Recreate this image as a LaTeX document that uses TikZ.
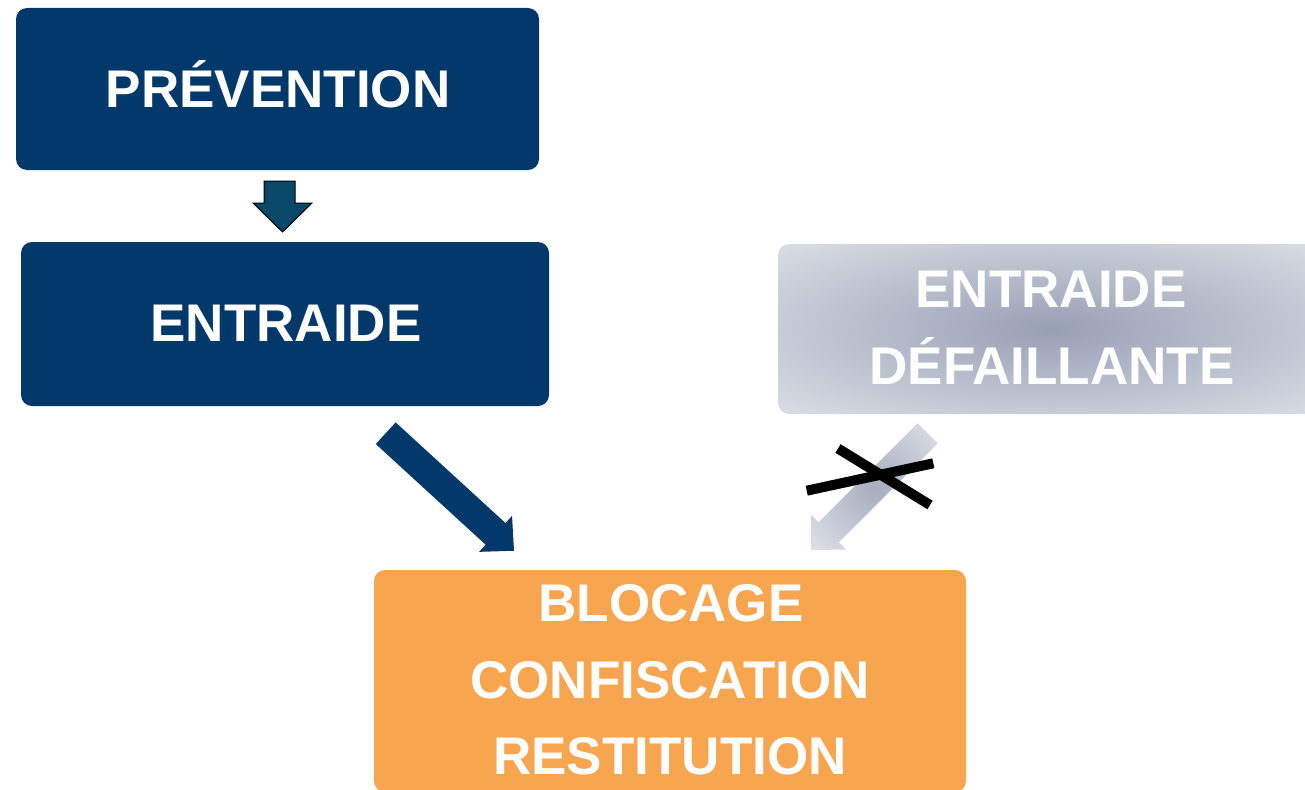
\documentclass[tikz,border=0pt]{standalone}
\usepackage{fontspec}
\setmainfont{Liberation Sans}
\definecolor{navy}{RGB}{3,56,107}
\definecolor{orng}{RGB}{248,165,80}
\definecolor{tealarrow}{RGB}{9,72,104}
\definecolor{gin}{RGB}{152,160,181}
\definecolor{gmid}{RGB}{190,195,208}
\definecolor{gout}{RGB}{226,229,235}
\definecolor{ain}{RGB}{165,173,190}
\definecolor{aout}{RGB}{228,231,236}
\pgfdeclareradialshading{grayglow}{\pgfpoint{0bp}{0bp}}{color(0bp)=(gin); color(20bp)=(gmid); color(40bp)=(gout); color(100bp)=(gout)}
\pgfdeclareradialshading{arrowglow}{\pgfpoint{0bp}{0bp}}{color(0bp)=(ain); color(40bp)=(aout); color(100bp)=(aout)}
\tikzset{
  box/.style={rectangle, rounded corners=11pt, inner sep=0pt, outer sep=0pt},
  lbl/.style={text=white, font=\fontsize{53}{60}\selectfont\bfseries, anchor=base, inner sep=0pt},
  crossbar/.style={line width=10pt, black},
}
\begin{document}
\begin{tikzpicture}[x=1pt,y=1pt]
\useasboundingbox (0,0) rectangle (1305,-789);
\clip (0,0) rectangle (1305,-789);
% boxes
\node[box, fill=navy, minimum width=523pt, minimum height=162pt] (prev) at (277.5,-89) {};
\node[box, fill=navy, minimum width=528pt, minimum height=164pt] (entr) at (285,-324) {};
\node[box, shading=grayglow, minimum width=547pt, minimum height=170pt] (fail) at (1051.5,-329) {};
\node[box, fill=orng, minimum width=592pt, minimum height=222pt] (bloc) at (670,-681) {};
% labels
\node[lbl] (prevt) at (278,-107) {PRÉVENTION};
\node[lbl] (entrt) at (286,-341) {ENTRAIDE};
\node[lbl] (fail1) at (1051,-307) {ENTRAIDE};
\node[lbl] (fail2) at (1052,-384) {DÉFAILLANTE};
\node[lbl] (bloc1) at (671,-621) {BLOCAGE};
\node[lbl] (bloc2) at (670,-698) {CONFISCATION};
\node[lbl] (bloc3) at (670,-774) {RESTITUTION};
% small arrow prevention -> entraide
\draw[fill=tealarrow, draw=black, line width=1pt, line join=miter]
  (264,-181) -- (295,-181) -- (295,-203) -- (312,-203) -- (282.5,-232)
  -- (253,-203) -- (264,-203) -- cycle;
% dark arrow entraide -> blocage
\begin{scope}[shift={(385.7,-433.2)}, rotate=-42.5]
  \fill[navy] (0,14.7) -- (149,14.7) -- (149,24.4) -- (174,0)
    -- (149,-24.4) -- (149,-14.7) -- (0,-14.7) -- cycle;
\end{scope}
% gray arrow defaillante -> blocage
\begin{scope}[shift={(927.7,-433.3)}, rotate=-135]
  \shade[shading=arrowglow] (0,14.2) -- (140,14.2) -- (140,24.4) -- (165,0)
    -- (140,-24.4) -- (140,-14.2) -- (0,-14.2) -- cycle;
\end{scope}
% cross
\draw[crossbar] (806.7,-490.7) -- (933.3,-463.3);
\draw[crossbar] (838,-448.5) -- (930,-505);
\end{tikzpicture}
\end{document}
